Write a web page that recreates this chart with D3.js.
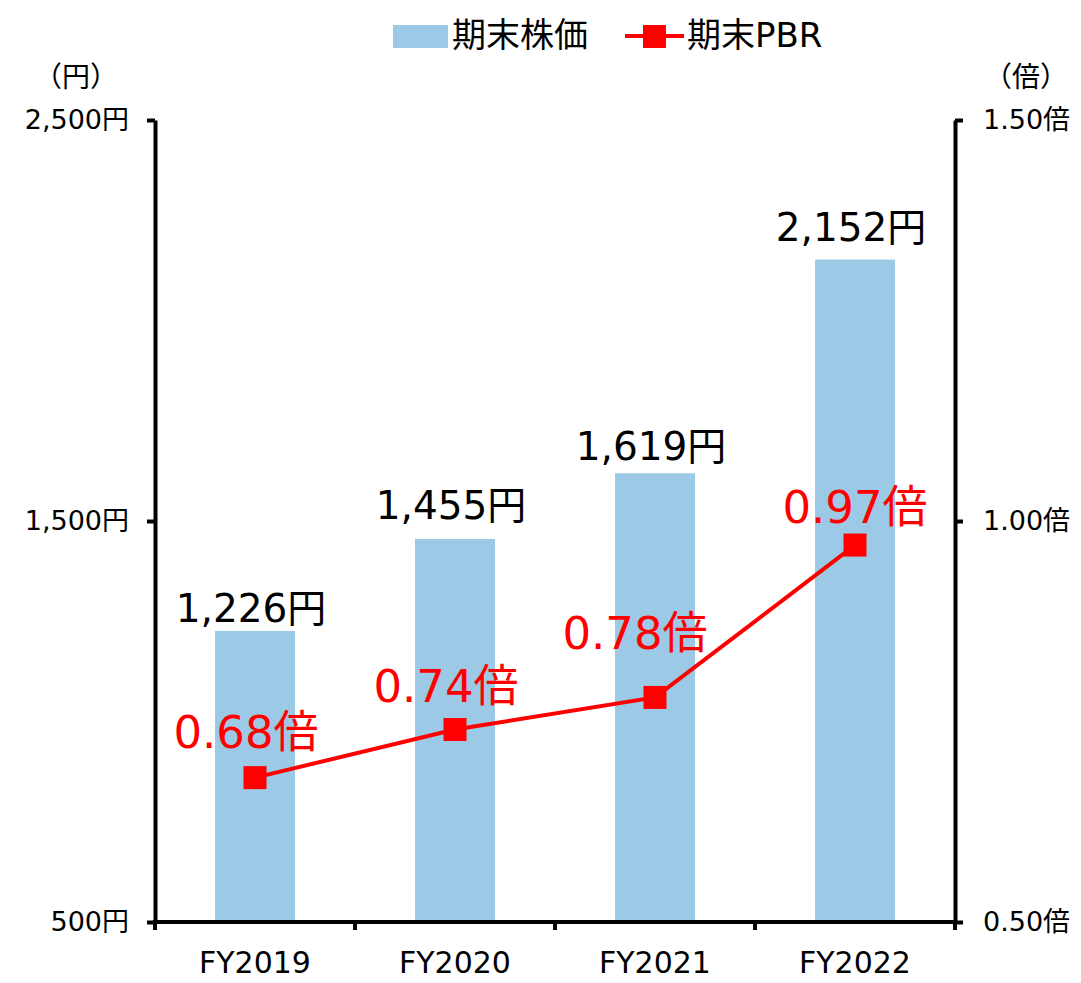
<!DOCTYPE html>
<html><head><meta charset="utf-8">
<script src="https://cdnjs.cloudflare.com/ajax/libs/d3/7.8.5/d3.min.js"></script>
<style>
body{margin:0;background:#fff;}
text{font-family:"DejaVu Sans","Noto Sans CJK JP",sans-serif;}
</style></head>
<body><svg id="c" width="1081" height="983"></svg>
<script>
const categories = ["FY2019","FY2020","FY2021","FY2022"];
const stockPrice = [1226,1455,1619,2152];
const pbr = [0.68,0.74,0.78,0.97];
const leftTicks = [500,1500,2500];
const rightTicks = [0.5,1.0,1.5];
const seriesNames = ["期末株価","期末PBR"];

// label nudges (layout only)
const barLabelGap = [9,20,13,19];
const pbrLabelNudge = [[-9,-30],[-9,-28],[-20,-48],[0,-22]];

const svg = d3.select("#c");
const L=155,R=955,T=120,B=922;
const barColor="#9ccae6", red="#ff0000";
const FF='"DejaVu Sans","Noto Sans CJK JP",sans-serif';

const x = d3.scaleBand().domain(categories).range([L,R]).paddingInner(0.6).paddingOuter(0.3);
const yL = d3.scaleLinear().domain([500,2500]).range([B,T]);
const yR = d3.scaleLinear().domain([0.5,1.5]).range([B,T]);

// bars
svg.append("g").selectAll("rect").data(categories).join("rect")
  .attr("x",d=>x(d)).attr("width",x.bandwidth())
  .attr("y",(d,i)=>yL(stockPrice[i])).attr("height",(d,i)=>B-yL(stockPrice[i]))
  .attr("fill",barColor);

// bar labels
svg.append("g").selectAll("text").data(categories).join("text")
  .attr("x",d=>x(d)+x.bandwidth()/2-4).attr("y",(d,i)=>yL(stockPrice[i])-barLabelGap[i])
  .attr("text-anchor","middle").attr("font-size",39).attr("fill","#000")
  .text((d,i)=>d3.format(",")(stockPrice[i])+"円");

// axes
const axL = d3.axisLeft(yL).tickValues(leftTicks).tickSize(8).tickSizeOuter(0).tickPadding(18)
  .tickFormat(d=>d3.format(",")(d)+"円");
const gL = svg.append("g").attr("transform",`translate(${L},0)`).call(axL);
const axR = d3.axisRight(yR).tickValues(rightTicks).tickSize(8).tickSizeOuter(0).tickPadding(20)
  .tickFormat(d=>d3.format(".2f")(d)+"倍");
const gR = svg.append("g").attr("transform",`translate(${R},0)`).call(axR);
[gL,gR].forEach(g=>{
  g.selectAll("path,line").attr("stroke","#000").attr("stroke-width",4);
  g.selectAll("text").attr("font-size",27).attr("fill","#000").attr("font-family",FF);
});

const axB = d3.axisBottom(x).tickSize(0).tickPadding(30);
const gB = svg.append("g").attr("transform",`translate(0,${B})`).call(axB);
gB.select(".domain").attr("stroke","#000").attr("stroke-width",4).attr("d",`M${L-2},0H${R+2}`);
gB.selectAll("text").attr("font-size",30).attr("fill","#000").attr("font-family",FF);
const bounds = categories.map(c=>x(c)-(x.step()-x.bandwidth())/2).concat([R]);
gB.selectAll("line.bt").data(bounds).join("line").attr("class","bt")
  .attr("x1",d=>d).attr("x2",d=>d).attr("y1",0).attr("y2",8)
  .attr("stroke","#000").attr("stroke-width",4);

// unit labels
svg.append("text").attr("x",76).attr("y",87).attr("text-anchor","middle").attr("font-size",28).text("（円）");
svg.append("text").attr("x",1026).attr("y",87).attr("text-anchor","middle").attr("font-size",28).text("（倍）");

// line
const cx = d=>x(d)+x.bandwidth()/2;
svg.append("path").datum(categories)
  .attr("d",d3.line().x(d=>cx(d)).y((d,i)=>yR(pbr[i])))
  .attr("fill","none").attr("stroke",red).attr("stroke-width",4);
const ms=23;
svg.append("g").selectAll("rect").data(categories).join("rect")
  .attr("x",d=>cx(d)-ms/2).attr("y",(d,i)=>yR(pbr[i])-ms/2)
  .attr("width",ms).attr("height",ms).attr("fill",red);
svg.append("g").selectAll("text").data(categories).join("text")
  .attr("x",(d,i)=>cx(d)+pbrLabelNudge[i][0]).attr("y",(d,i)=>yR(pbr[i])+pbrLabelNudge[i][1])
  .attr("text-anchor","middle").attr("font-size",45).attr("fill",red)
  .text((d,i)=>d3.format(".2f")(pbr[i])+"倍");

// legend
const lg = svg.append("g");
lg.append("rect").attr("x",393).attr("y",25).attr("width",55).attr("height",23).attr("fill",barColor);
lg.append("text").attr("x",452).attr("y",47).attr("font-size",34).text(seriesNames[0]);
lg.append("line").attr("x1",625).attr("x2",684).attr("y1",36).attr("y2",36).attr("stroke",red).attr("stroke-width",4);
lg.append("rect").attr("x",643).attr("y",25).attr("width",23).attr("height",23).attr("fill",red);
lg.append("text").attr("x",687).attr("y",47).attr("font-size",34).text(seriesNames[1]);
</script></body></html>
